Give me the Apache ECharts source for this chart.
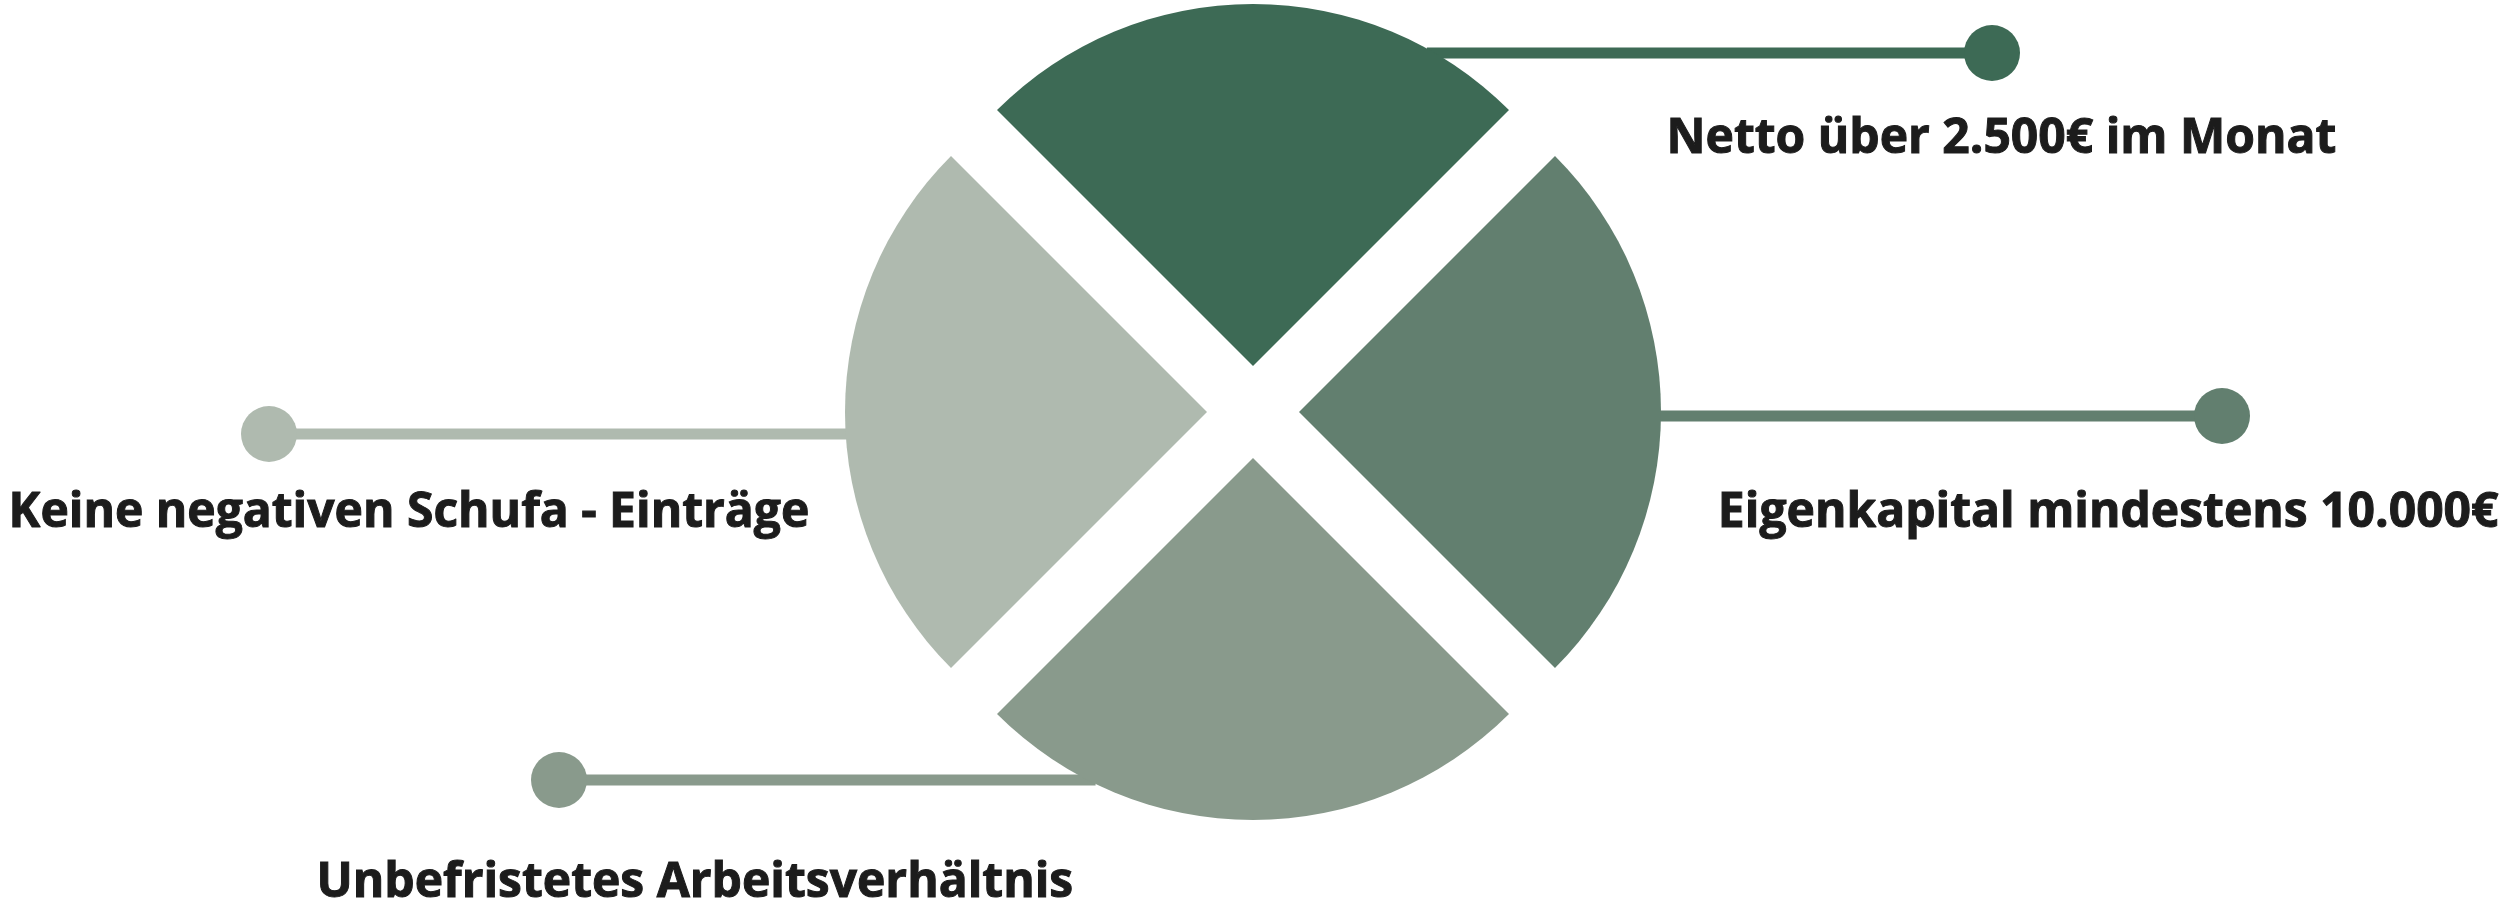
<!DOCTYPE html>
<html>
<head>
<meta charset="utf-8">
<script src="https://cdn.jsdelivr.net/npm/echarts@6/dist/echarts.min.js"></script>
<style>
  html, body { margin: 0; padding: 0; background: #ffffff; }
  #chart { width: 2506px; height: 905px; }
</style>
</head>
<body>
<div id="chart"></div>
<script>
// ---- data ----
const categories = [
  'Netto über 2.500€ im Monat',
  'Eigenkapital mindestens 10.000€',
  'Unbefristetes Arbeitsverhältnis',
  'Keine negativen Schufa - Einträge'
];
const shares = [25, 25, 25, 25];
const colors = ['#3d6a55', '#627f6f', '#899a8c', '#afbaaf'];

// ---- layout (pixels) ----
const W = 2506, H = 905;
const pieCenter = [1253, 412];
const pieRadius = 362;
const explode = 46;
const bisectors = [90, 0, -90, 180];      // slice mid-angles (deg)
const leaderY = [53, 416, 780, 434];
const dotX = [1992, 2222, 559, 269];
const labelPos = [[1667, 140], [2499, 514], [317, 884], [9, 514]];
const labelAlign = ['left', 'right', 'left', 'left'];

function arcX(i) {
  const a = bisectors[i] * Math.PI / 180;
  const cx = pieCenter[0] + explode * Math.cos(a);
  const cy = pieCenter[1] - explode * Math.sin(a);
  const dy = leaderY[i] - cy;
  const dx = Math.sqrt(Math.max(0, pieRadius * pieRadius - dy * dy));
  const side = dotX[i] > cx ? 1 : -1;
  return cx + side * (dx - 8);
}

const chart = echarts.init(document.getElementById('chart'), null, { renderer: 'canvas' });

const leaderSeries = categories.map((name, i) => ({
  type: 'line',
  z: 1,
  silent: true,
  animation: false,
  lineStyle: { color: colors[i], width: 11 },
  itemStyle: { color: colors[i], borderWidth: 0 },
  data: [
    { value: [arcX(i), leaderY[i]], symbol: 'none' },
    { value: [dotX[i], leaderY[i]], symbol: 'circle', symbolSize: 56 }
  ]
}));

const option = {
  backgroundColor: '#ffffff',
  animation: false,
  grid: { left: 0, right: 0, top: 0, bottom: 0 },
  xAxis: { type: 'value', min: 0, max: W, show: false },
  yAxis: { type: 'value', min: 0, max: H, inverse: true, show: false },
  series: [
    ...leaderSeries,
    {
      type: 'scatter',
      z: 4,
      silent: true,
      symbol: 'circle',
      symbolSize: 1,
      itemStyle: { color: '#ffffff', opacity: 0 },
      data: categories.map((name, i) => ({
        name: name,
        value: labelPos[i],
        label: {
          show: true,
          position: [0, 0],
          align: labelAlign[i],
          verticalAlign: 'middle',
          formatter: p => p.name,
          fontFamily: 'Open Sans',
          fontWeight: 'bold',
          fontSize: 48,
          color: '#1c1c1c',
          opacity: 1,
          textBorderWidth: 1,
          textBorderColor: '#1c1c1c',
          textShadowBlur: 0
        }
      }))
    },
    {
      type: 'pie',
      z: 3,
      silent: true,
      center: pieCenter,
      radius: pieRadius,
      startAngle: 135,
      clockwise: true,
      selectedMode: 'multiple',
      selectedOffset: explode,
      label: { show: false },
      labelLine: { show: false },
      emphasis: { disabled: true },
      data: categories.map((name, i) => ({
        name: name,
        value: shares[i],
        selected: true,
        itemStyle: { color: colors[i], borderWidth: 0 }
      }))
    }
  ]
};
chart.setOption(option);
</script>
</body>
</html>
